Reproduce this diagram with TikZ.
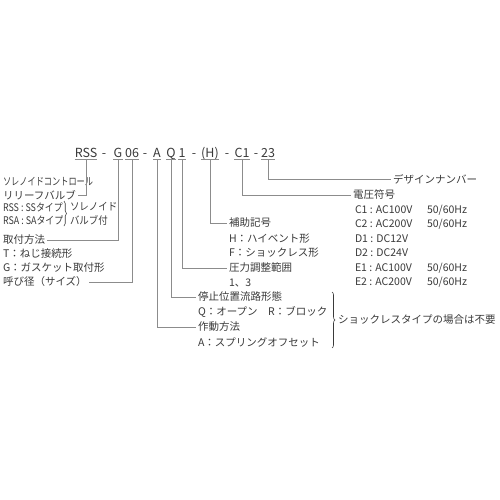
\documentclass[tikz,border=0pt]{standalone}
\usepackage{fontspec}
\setmainfont{Noto Sans CJK JP}
\usetikzlibrary{decorations.pathreplacing,calc}
\definecolor{txt}{HTML}{3A3A3A}
\definecolor{lnc}{HTML}{8C8C8C}
\begin{document}
\begin{tikzpicture}[x=1pt,y=-1pt,
  code/.style={font=\fontsize{12.5}{13}\selectfont, text=txt, inner sep=0pt, anchor=base, text depth=0pt},
  lbl/.style={font=\fontsize{10.5}{12}\selectfont, text=txt, inner sep=0pt, outer sep=2pt, anchor=west},
  ln/.style={draw=lnc, line width=0.7pt},
  brc/.style={draw=txt, line width=0.6pt, decorate, decoration={brace, amplitude=#1}},
]
\useasboundingbox[fill=white] (0,0) rectangle (500,500);

% code line
\node[code] (rss) at (86,157) {RSS};
\node[code] (d1) at (104,157) {-};
\node[code] (g) at (118,157) {G};
\node[code] (n06) at (132,157) {06};
\node[code] (d2) at (145,157) {-};
\node[code] (a) at (157,157) {A};
\node[code] (q) at (171,157) {Q};
\node[code] (one) at (182,157) {1};
\node[code] (d3) at (194,157) {-};
\node[code] (h) at (210,157) {(H)};
\node[code] (d4) at (227,157) {-};
\node[code] (c1) at (242,157) {C1};
\node[code] (d5) at (256,157) {-};
\node[code] (n23) at (268,157) {23};

\foreach \c in {rss,g,n06,a,q,one,h,c1,n23}{
  \draw[ln] ([yshift=-2.5pt]\c.south west) -- ([yshift=-2.5pt]\c.south east);
}

% left labels
\node[lbl] (sol) at (1,182) {\scalebox{0.78}[1]{ソレノイドコントロール}};
\node[lbl] (relief) at (1,195) {リリーフバルブ};
\node[lbl] (rssl) at (1,207) {\scalebox{0.85}[1]{RSS : SSタイプ}};
\node[lbl] (rsal) at (1,220) {\scalebox{0.85}[1]{RSA : SAタイプ}};
\node[lbl] (solv) at (68,207) {\scalebox{0.9}[1]{ソレノイド}};
\node[lbl] (valv) at (68,220) {\scalebox{0.9}[1]{バルブ付}};
\node[lbl] (mount) at (1,240) {取付方法};
\node[lbl] (mt) at (1,254) {T：ねじ接続形};
\node[lbl] (mg) at (1,268) {G：ガスケット取付形};
\node[lbl] (size) at (1,282) {呼び径（サイズ）};

% middle labels
\node[lbl] (aux) at (227,223) {補助記号};
\node[lbl] (auxh) at (227,239) {H：ハイベント形};
\node[lbl] (auxf) at (227,253) {F：ショックレス形};
\node[lbl] (press) at (227,268) {圧力調整範囲};
\node[lbl] (pressv) at (227,283) {1、3};
\node[lbl] (stop) at (196,297) {停止位置流路形態};
\node[lbl] (stopv) at (196,312) {Q：オープン　R：ブロック};
\node[lbl] (act) at (196,327) {作動方法};
\node[lbl] (actv) at (196,342) {A：スプリングオフセット};
\node[lbl] (note) at (336,320) {ショックレスタイプの場合は不要};

% right labels
\node[lbl] (design) at (391,179) {デザインナンバー};
\node[lbl] (volt) at (351,195) {電圧符号};
\node[lbl] (v1) at (353,210) {C1 : AC100V};
\node[lbl] (v2) at (353,224) {C2 : AC200V};
\node[lbl] (v3) at (353,239) {D1 : DC12V};
\node[lbl] (v4) at (353,253) {D2 : DC24V};
\node[lbl] (v5) at (353,268) {E1 : AC100V};
\node[lbl] (v6) at (353,282) {E2 : AC200V};
\node[lbl] (f1) at (425,210) {50/60Hz};
\node[lbl] (f2) at (425,224) {50/60Hz};
\node[lbl] (f5) at (425,268) {50/60Hz};
\node[lbl] (f6) at (425,282) {50/60Hz};

% connectors
\draw[ln] ([yshift=-2.5pt]rss.south) |- (relief.east);
\draw[ln] ([yshift=-2.5pt]g.south) |- (mount.east);
\draw[ln] ([yshift=-2.5pt]n06.south) |- (size.east);
\draw[ln] ([yshift=-2.5pt]a.south) |- (act.west);
\draw[ln] ([yshift=-2.5pt]q.south) |- (stop.west);
\draw[ln] ([yshift=-2.5pt]one.south) |- (press.west);
\draw[ln] ([yshift=-2.5pt]h.south) |- (aux.west);
\draw[ln] ([yshift=-2.5pt]c1.south) |- (volt.west);
\draw[ln] ([yshift=-2.5pt]n23.south) |- (design.west);

% braces
\coordinate (lb1) at (64,201);
\coordinate (lb2) at (64,226);
\draw[brc=2.5pt] (lb1) -- (lb2);
\coordinate (rb1) at (332,292);
\coordinate (rb2) at (332,348);
\draw[brc=3pt] (rb1) -- (rb2);
\end{tikzpicture}
\end{document}
